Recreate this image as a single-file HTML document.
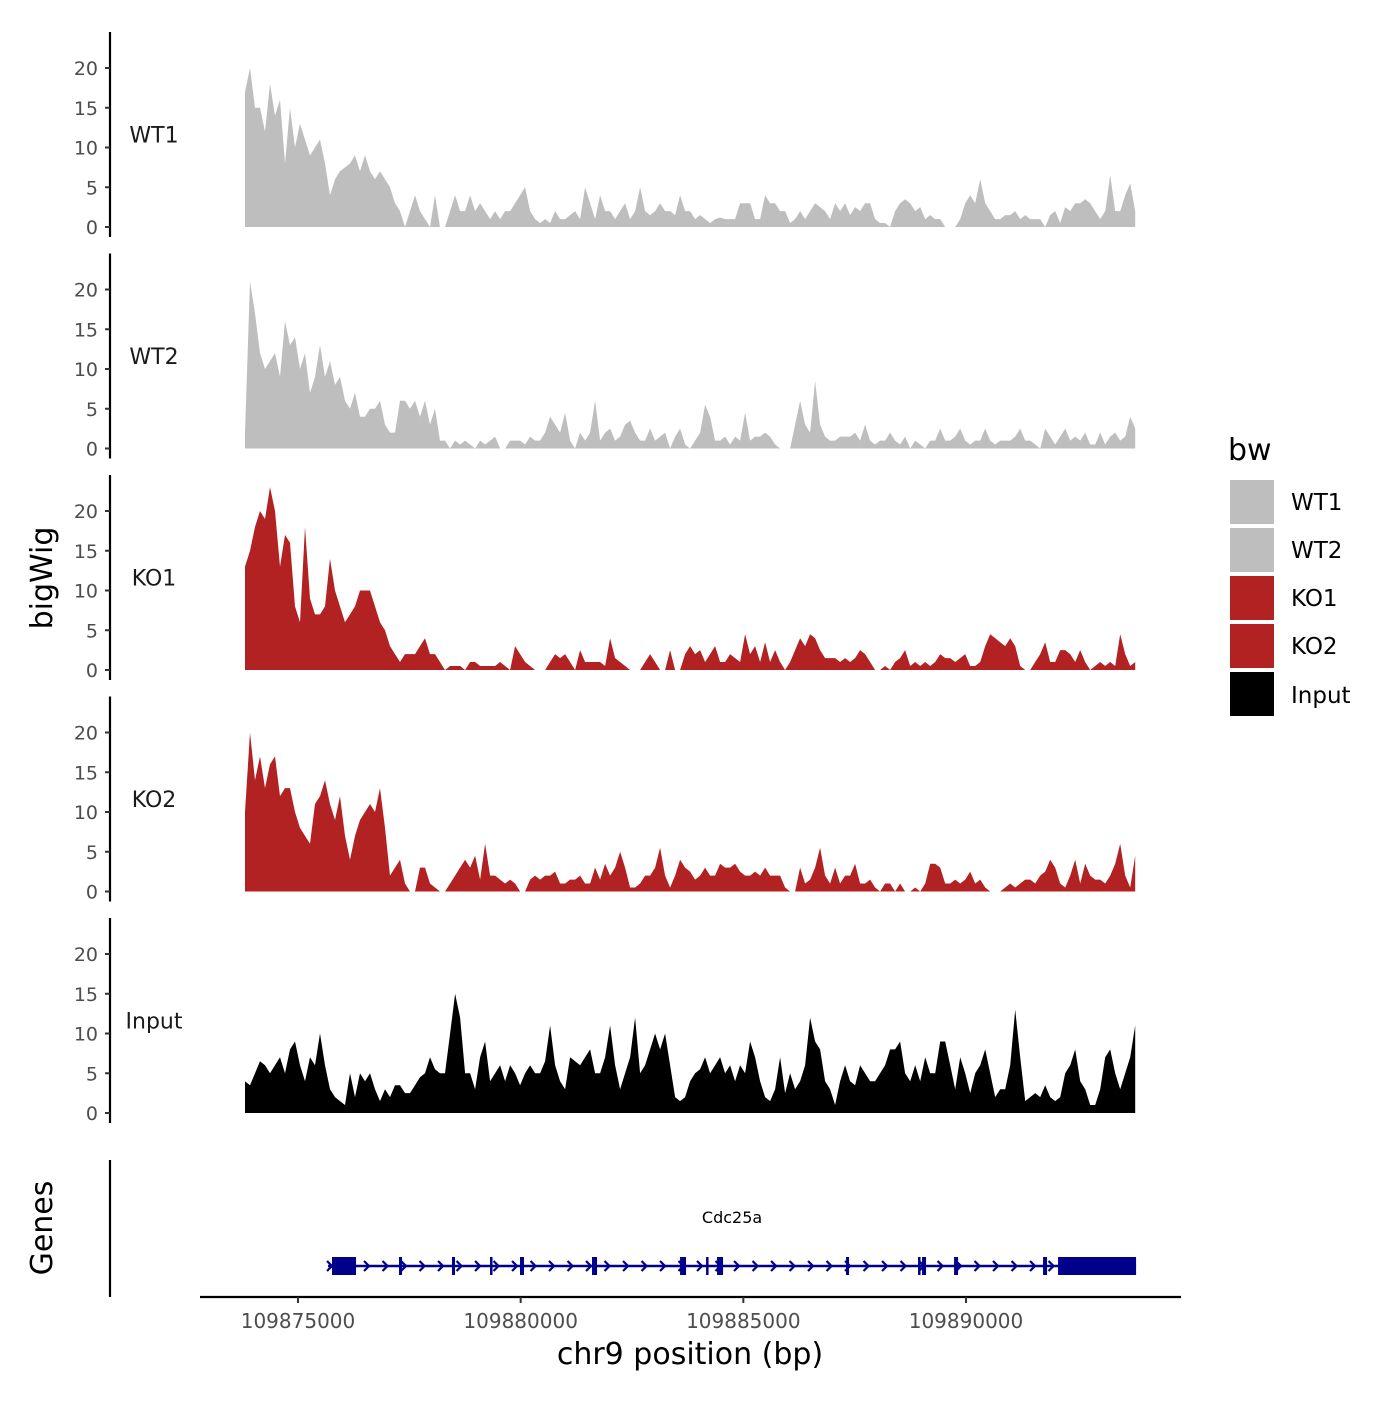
<!DOCTYPE html>
<html><head><meta charset="utf-8"><style>
html,body{margin:0;padding:0;background:#fff;}
svg text{font-family:"DejaVu Sans","Liberation Sans",sans-serif;}
</style></head><body>
<svg id="chart" width="1400" height="1400" viewBox="0 0 1400 1400" xmlns="http://www.w3.org/2000/svg">
<rect width="1400" height="1400" fill="#fff"/>
<g id="panels"></g>
<g id="genes"></g>
<g id="xaxis"></g>
<text x="0" y="0" transform="translate(52,578) rotate(-90)" font-size="30" text-anchor="middle" fill="#000">bigWig</text>
<text x="0" y="0" transform="translate(52,1228) rotate(-90)" font-size="30" text-anchor="middle" fill="#000">Genes</text>
<text x="690" y="1364" font-size="30" text-anchor="middle" fill="#000">chr9 position (bp)</text>
<g>
<text x="1228" y="460" font-size="30" fill="#000">bw</text>
<rect x="1230" y="480" width="44" height="44" fill="#bebebe"/>
<text x="1291" y="510" font-size="23" fill="#000">WT1</text>
<rect x="1230" y="528" width="44" height="44" fill="#bebebe"/>
<text x="1291" y="558" font-size="23" fill="#000">WT2</text>
<rect x="1230" y="576" width="44" height="44" fill="#b22222"/>
<text x="1291" y="606" font-size="23" fill="#000">KO1</text>
<rect x="1230" y="624" width="44" height="44" fill="#b22222"/>
<text x="1291" y="654" font-size="23" fill="#000">KO2</text>
<rect x="1230" y="672" width="44" height="44" fill="#000"/>
<text x="1291" y="703" font-size="23" fill="#000">Input</text>
</g>
</svg>
<script>
const samples = ["WT1","WT2","KO1","KO2","Input"];
const sampleColors = ["#bebebe","#bebebe","#b22222","#b22222","#000000"];
const yTicks = [0,5,10,15,20];
const xTicks = [109875000,109880000,109885000,109890000];
const binStart = 109873810;
const binSize = 112.3;
const wt1 = [17,20,15,15,12,18,14,16,8,15, 10,13,11,9,10,11,8,4,6,7, 7.5,8,9,7,9,7,6,7,6,5, 3,2,0,2,4,2,1,0,4,0, 0,2,4,2,2,4,2,3,2,1, 2,1,2,2,3,4,5,2,1,0.5, 1,0.5,2,1,1,1.5,2,1,5,3, 1,4,2,2,1,2,3,1,2,5, 2,1.5,2,3,2,2,1.5,4,2,2, 1,1.5,1,0.5,1,1.2,1,1,1,3, 3,3,1,1,4,3,3,2,2,0.5, 1,2,1,2,3,2.5,2,1,3,2, 3,1.5,2.5,2,3,3,1,0.5,0.5,0, 2,3,3.5,3,2,2.5,1,1.5,1,1, 0,0,0,1,3,4,3,6,3,2, 1,1,1.5,1.5,2,1,1.5,1,1,1, 0,1.5,2,0.5,2.5,2,3,3,3.5,3, 2,1,2,6.5,2,2,4,5.5,2];
const wt2 = [2,21,17,12,10,11,12,9,16,13, 14,10,12,7,9,13,9,11,8,9, 6,5,7,4,4,5,5,6,3,2, 2,6,6,5,6,4,6,3,5,1, 1,0,1,0.5,1,0.5,0,1,0.5,1, 1.5,0,0,1,1,1,0.5,1.5,1,1, 2,4,3,2,4.5,1,0,2,1,2, 6,1,2,2.5,1,1.5,3,3.5,2,1, 1,2.5,1,1.5,2,0,1.5,2.5,0.5,0, 1,2,5.5,4,1,1,1.5,0.5,1.5,1, 4.5,1,1.5,1.5,2,1.5,0.5,0,0,0, 3,6,3,2,8.5,3,1.5,1,1,1.5, 1.5,1.5,2,1,3,1,0.5,1,1,2, 1,0.5,1.5,0,1,0.5,0,1,1,2.5, 1,1,1.5,2.5,1,0.5,1,1,2.5,1, 0.5,1,1,1,1.5,2.5,1,1,0.5,0, 2.5,1.5,0.5,1.5,2.5,1,1.5,1,2,0.5, 0.5,2,0.5,1.5,2,1,1.5,4,2.5];
const ko1 = [13,15,18,20,19,23,20,13,17,16, 8,6,18,9,7,7,8,14,10,8, 6,7,8,10,10,10,8,6,5,3, 2,1,2,2,2,3,4,2,2,1, 0,0.5,0.5,0.5,0,1,1,0.5,0.5,0.5, 0.5,1,0.5,0,3,2,1,0.5,0,0, 0,1,2,1.5,2,1,0,2.5,1,1, 1,1,0.5,4,1.5,1,0.5,0,0,0, 1,2,1,0,0,2.5,0,0,2,3, 2,2.5,1,2,3,1,1,2,1.5,1, 4.5,2,3,1,3.5,1,2.5,1,0,1, 2.5,4,3,4.5,4,2.5,1.5,1.5,1.5,1, 1.5,1,1.5,2.5,2,1,0,0,0.5,0, 1,1.5,2.5,0.5,1,0.5,1,0.5,1,2, 1.5,1.5,1,1.5,2,0.5,0.5,1,3,4.5, 4,3.5,3,4,3,0.5,0,0,1,2, 3.5,1,1,2.5,2.5,2,1,2.5,1,0, 0.5,1,0.5,1,0.5,4.5,2,0.5,1];
const ko2 = [10,20,14,17,13,16,17,12,13,13, 10,8,7,6,11,12,14,11,9,12, 7,4,7,9,10,11,10,13,8,2, 3,4,1,0,0,3,3,1,0.5,0, 0,1,2,3,4,3,4.5,1.5,6,2, 2,1.5,1,1.5,1,0,0,1.5,2,1.5, 2,2,2.5,1,1,1.5,1.5,2,1,1, 3,1.5,3.5,2,3,5,3,0.5,0.5,1, 2,2,3,5.5,2,0.5,2,4,3,2.5, 1.5,2,3,2,2,3.5,3,3,3.5,2.5, 2,2,2.5,2,3,2,2,2,0.5,0, 0,3,1,1.5,3,5.5,2,1,3,1, 2,2,3.5,1,1,1.5,0.5,0,1,1, 0,1,0,0,0.5,0,1,3.5,3.5,3, 1,1,1.5,1,1.5,2.5,1,1.5,0.5,0, 0,0,0.5,1,0.5,1,1.5,1.5,1,2, 2.5,4,3,1,0.5,2,4,1,3.5,2, 1.5,1.5,1,2,3.5,6,2,0.5,4.5];
const input = [4,3.5,5,6.5,6,5,6,7,5,8, 9,6,4,7,6,10,6,3,2,1.5, 1,5,2,5,4,5,3,1.5,3,2, 3.5,3.5,2.5,2.5,3.5,4.5,5,7,5.5,5, 5,10,15,12,5,5,3,7,9,4, 5,6,4,6,5,3.5,5,6,5,5, 6.5,11,6,4,3,7,6.5,6,7,8, 5,5,7,11,6,3,5,7,12,5, 6,8,10,8,10,6,2,1.5,2,4, 5,5.5,7,5,6,7,5,6,4,6, 5,9,7,4,2,1.5,3,7,2.5,5, 3,4,6,12,9,8,4,3,1,4, 6,4,3.5,6,5,4,4,5,6,8, 8,9,5,4,6,4,7,5,5,9, 9,6,3,7,5,2.5,5,6,8,5, 2,3,3,6,13,7,1.5,2,2.5,2, 3.5,2,1.5,2,5,6,8,4,3,1, 1,3,7,8,5,3,5,7,11];
const seriesValues = [wt1, wt2, ko1, ko2, input];
const geneName = "Cdc25a";
const geneStart = 109875674;
const geneEnd = 109893819;
const exonStarts = [109875763,109877268,109878458,109879312,109879985,109881602,109883579,109884163,109884410,109887306,109888923,109889013,109889732,109891730,109892067];
const exonEnds =   [109876303,109877336,109878526,109879357,109880075,109881715,109883713,109884208,109884545,109887374,109888968,109889103,109889822,109891820,109893819];

const NS="http://www.w3.org/2000/svg";
function mk(tag, attrs, parent){const e=document.createElementNS(NS,tag);for(const k in attrs)e.setAttribute(k,attrs[k]);parent.appendChild(e);return e;}
function xScale(bp){return 298 + (bp-109875000)*(668/15000);}
const panelBase0 = 227, panelStep = 221.5, pxPerUnit = 7.95;
function yScale(panel, v){return panelBase0 + panel*panelStep - v*pxPerUnit;}

const gP = document.getElementById('panels');
samples.forEach((s,p)=>{
  const base = yScale(p,0);
  const g = mk('g',{},gP);
  
  
  const vals = seriesValues[p];
  let d = 'M'+xScale(binStart).toFixed(1)+','+base;
  vals.forEach((v,i)=>{ d += ' L'+xScale(binStart+i*binSize).toFixed(1)+','+yScale(p,v).toFixed(1); });
  d += ' L'+xScale(binStart+(vals.length-1)*binSize).toFixed(1)+','+base+' Z';
  const area = mk('path',{d:d, fill:sampleColors[p]},g);
  
  
  const ax = mk('line',{x1:110,x2:110,y1:yScale(p,20)-36,y2:base+10,stroke:'#000','stroke-width':2.2},g);
  
  
  yTicks.forEach(t=>{
    const y = yScale(p,t);
    const tk = mk('line',{x1:105,x2:110,y1:y,y2:y,stroke:'#333','stroke-width':2},g);
    
    
    const tl = mk('text',{x:98,y:y+7,'font-size':19,'text-anchor':'end',fill:'#4d4d4d'},g);
    
    
    tl.textContent = t;
  });
  const lab = mk('text',{x:154,y:yScale(p,10)-5,'font-size':22,'text-anchor':'middle',fill:'#1a1a1a'},g);
  
  
  lab.textContent = s;
});

const gG = document.getElementById('genes');
const gax = mk('line',{x1:110,x2:110,y1:1160,y2:1297,stroke:'#000','stroke-width':2.2},gG);


const gy = 1266;
const gl = mk('line',{x1:xScale(geneStart),x2:xScale(geneEnd),y1:gy,y2:gy,stroke:'#00008b','stroke-width':2.5},gG);


for(let x=xScale(geneStart)+2; x<xScale(geneEnd)-4; x+=18.5){
  const c = mk('polyline',{points:(x-3)+','+(gy-5)+' '+(x+2)+','+gy+' '+(x-3)+','+(gy+5),fill:'none',stroke:'#00008b','stroke-width':2.2},gG);
  
  
}
exonStarts.forEach((s,i)=>{
  const x1 = xScale(s), x2 = xScale(exonEnds[i]);
  const r = mk('rect',{x:x1,y:gy-9,width:Math.max(2.5,x2-x1),height:18,fill:'#00008b'},gG);
  
  
});
const gn = mk('text',{x:xScale((geneStart+geneEnd)/2),y:1223,'font-size':16,'text-anchor':'middle',fill:'#000'},gG);


gn.textContent = geneName;

const gX = document.getElementById('xaxis');
const xl = mk('line',{x1:200,x2:1181,y1:1297,y2:1297,stroke:'#000','stroke-width':2.2},gX);


xTicks.forEach(t=>{
  const x = xScale(t);
  const tk = mk('line',{x1:x,x2:x,y1:1297,y2:1303,stroke:'#333','stroke-width':2},gX);
  
  
  const tl = mk('text',{x:x,y:1328,'font-size':20,'text-anchor':'middle',fill:'#4d4d4d'},gX);
  
  
  tl.textContent = t;
});
</script>
</body></html>
